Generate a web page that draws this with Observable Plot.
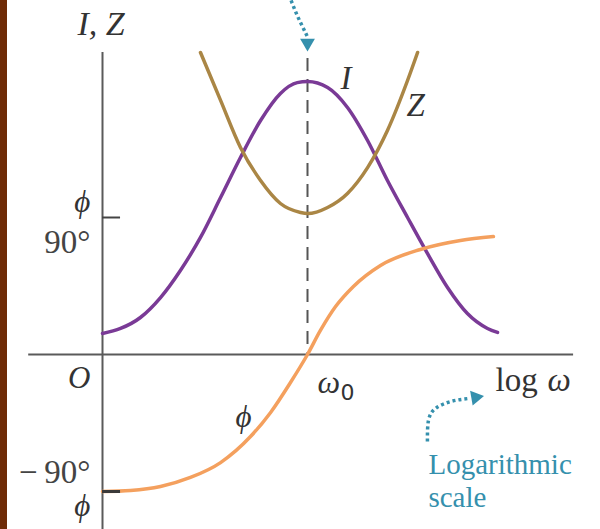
<!DOCTYPE html>
<html>
<head>
<meta charset="utf-8">
<script src="https://cdn.jsdelivr.net/npm/d3@7"></script>
<script src="https://cdn.jsdelivr.net/npm/@observablehq/plot@0.6"></script>
<style>
  html, body { margin: 0; padding: 0; background: #fff; }
  #wrap { position: relative; width: 600px; height: 529px; overflow: hidden; }
  #edge { position: absolute; left: 0; top: 0; width: 7px; height: 529px; background: #6e2a06; }
</style>
</head>
<body>
<div id="wrap"><div id="edge"></div></div>
<script>
// Series-RLC resonance sketch: current I, impedance Z and phase ϕ against log ω.
// x: log ω measured from the resonance ω0 (arbitrary units); y: phase in degrees,
// with I and Z drawn on the same vertical scale in arbitrary units.

const currentX = [-10, -9.12, -8.15, -7.17, -6.2, -5.22, -4.24, -3.27, -2.29, -1.32, -0.5, 0, 0.98, 1.95, 2.93, 3.9, 4.88, 5.85, 6.83, 7.8, 8.78, 9.27];
const currentY = [13.8, 17.1, 24.3, 37.4, 55.2, 76.9, 103.1, 129.4, 153.7, 171.5, 178.6, 179.3, 175.4, 162.3, 140.6, 114.3, 90.0, 66.4, 44.0, 26.9, 17.1, 14.5];

const impedanceX = [-5.22, -4.24, -3.27, -2.29, -1.32, -0.34, 0, 0.98, 1.95, 2.93, 3.9, 4.88, 5.37];
const impedanceY = [198.4, 166.9, 136.0, 114.3, 99.2, 93.3, 92.6, 96.6, 105.8, 122.8, 147.2, 180.0, 198.4];

const phaseX = [-10, -8.63, -7.17, -5.71, -4.24, -2.78, -1.8, -0.83, 0, 0.63, 1.37, 2.24, 3.56, 5.51, 7.46, 9.07];
const phaseY = [-90, -89.3, -86.7, -80.8, -71.0, -53.9, -38.1, -18.4, 0, 15.8, 31.5, 44.7, 58.5, 69.0, 74.9, 77.5];

// Axis extents
const originX = -10;
const axisLeft = -13.6, axisRight = 12.98;
const axisTop = 198.4, axisBottom = -116;
const resonanceTop = 194.5;

// Pointer arrows (teal, dotted)
const topArrowX = [-0.8, -0.5, -0.2, 0];
const topArrowY = [232.6, 222.7, 214.2, 208.6];
const topHead = [{x: 0, y: 204.6, r: 180}];
const logArrowX = [5.85, 5.9, 6.24, 6.98, 7.85];
const logArrowY = [-57.2, -43.4, -35.5, -30.9, -28.9];
const logHead = [{x: 8.2, y: -28.2, r: 80}];

// Labels
const italicLabels = [
  {x: -11.22, y: 209.6, text: "I, Z", size: 34},
  {x: 1.61,   y: 174.7, text: "I",    size: 33},
  {x: 4.83,   y: 156.4, text: "Z",    size: 33},
  {x: -3.51,  y: -47.3, text: "ϕ",    size: 31}
];
const leftItalic = [
  {y: 93.3,   text: "ϕ"},
  {y: -21.7,  text: "O"},
  {y: -105.8, text: "ϕ"}
];
const leftUpright = [
  {y: 67.0,  text: "90°"},
  {y: -84.1, text: "−\u200990°"}
];
const labelEdge = -10.59;
const omegaLabel = [{x: 0.49, y: -25.0}];
const logLabel = [{x: 9.17, y: -23.7}];
const scaleNote = [
  {x: 5.9, y: -78.2, text: "Logarithmic"},
  {x: 5.9, y: -100.5, text: "scale"}
];

const serif = "'Liberation Serif', 'DejaVu Serif', serif";
const ink = "#333";
const teal = "#3590ad";
const axisGray = "#5a5a5a";

const current = currentX.map((x, i) => ({x, y: currentY[i]}));
const impedance = impedanceX.map((x, i) => ({x, y: impedanceY[i]}));
const phase = phaseX.map((x, i) => ({x, y: phaseY[i]}));
const topArrow = topArrowX.map((x, i) => ({x, y: topArrowY[i]}));
const logArrow = logArrowX.map((x, i) => ({x, y: logArrowY[i]}));

const chart = Plot.plot({
  width: 600,
  height: 529,
  marginLeft: 102,
  marginRight: 88,
  marginTop: 217,
  marginBottom: 38,
  x: {domain: [-10, 10], axis: null},
  y: {domain: [-90, 90], axis: null},
  style: {background: "transparent", overflow: "visible"},
  marks: [
    // axes
    Plot.ruleY([0], {x1: axisLeft, x2: axisRight, stroke: axisGray, strokeWidth: 2}),
    Plot.ruleX([originX], {y1: axisTop, y2: axisBottom, stroke: axisGray, strokeWidth: 2}),
    Plot.ruleY([90], {x1: originX, x2: -9.12, stroke: "#444", strokeWidth: 2}),
    // resonance marker
    Plot.ruleX([0], {y1: resonanceTop, y2: 0, stroke: "#555", strokeWidth: 2, strokeDasharray: "13,8"}),
    // curves
    Plot.line(current, {x: "x", y: "y", stroke: "#7a3a96", strokeWidth: 3.5, curve: "monotone-x"}),
    Plot.line(impedance, {x: "x", y: "y", stroke: "#aa8645", strokeWidth: 3.5, curve: "monotone-x"}),
    Plot.line(phase, {x: "x", y: "y", stroke: "#f4a05e", strokeWidth: 3.5, curve: "monotone-x"}),
    Plot.ruleY([-90], {x1: originX, x2: -9.12, stroke: "#3a3a3a", strokeWidth: 3}),
    // pointer arrows
    Plot.line(topArrow, {x: "x", y: "y", stroke: teal, strokeWidth: 3.5, strokeDasharray: "3,3", strokeLinecap: "butt", curve: "natural"}),
    Plot.dot(topHead, {x: "x", y: "y", rotate: "r", symbol: "triangle", r: 5.5, fill: teal, stroke: "none"}),
    Plot.line(logArrow, {x: "x", y: "y", stroke: teal, strokeWidth: 3.5, strokeDasharray: "3,3", strokeLinecap: "butt", curve: "natural"}),
    Plot.dot(logHead, {x: "x", y: "y", rotate: "r", symbol: "triangle", r: 5.5, fill: teal, stroke: "none"}),
    // labels
    Plot.text(italicLabels, {x: "x", y: "y", text: "text", fontSize: "size", textAnchor: "start", lineAnchor: "bottom", fontStyle: "italic", fontFamily: serif, fill: ink}),
    Plot.text(leftItalic, {x: labelEdge, y: "y", text: "text", fontSize: 31, textAnchor: "end", lineAnchor: "bottom", fontStyle: "italic", fontFamily: serif, fill: ink}),
    Plot.text(leftUpright, {x: labelEdge, y: "y", text: "text", fontSize: 33, textAnchor: "end", lineAnchor: "bottom", fontFamily: serif, fill: "#444"}),
    Plot.text(omegaLabel, {x: "x", y: "y", text: () => "ω", fontSize: 32, textAnchor: "start", lineAnchor: "bottom", fontStyle: "italic", fontFamily: serif, fill: ink}),
    Plot.text(omegaLabel, {x: "x", y: "y", text: () => "0", dx: 23, dy: 7, fontSize: 22, textAnchor: "start", lineAnchor: "bottom", fontFamily: "'DejaVu Sans', sans-serif", fill: ink}),
    Plot.text(logLabel, {x: "x", y: "y", text: () => "log", fontSize: 33, textAnchor: "start", lineAnchor: "bottom", fontFamily: serif, fill: ink}),
    Plot.text(logLabel, {x: "x", y: "y", text: () => "ω", dx: 52, fontSize: 33, textAnchor: "start", lineAnchor: "bottom", fontStyle: "italic", fontFamily: serif, fill: ink}),
    Plot.text(scaleNote, {x: "x", y: "y", text: "text", textAnchor: "start", lineAnchor: "bottom", fontSize: 29, fontFamily: serif, fill: teal})
  ]
});

document.getElementById("wrap").appendChild(chart);
</script>
</body>
</html>
